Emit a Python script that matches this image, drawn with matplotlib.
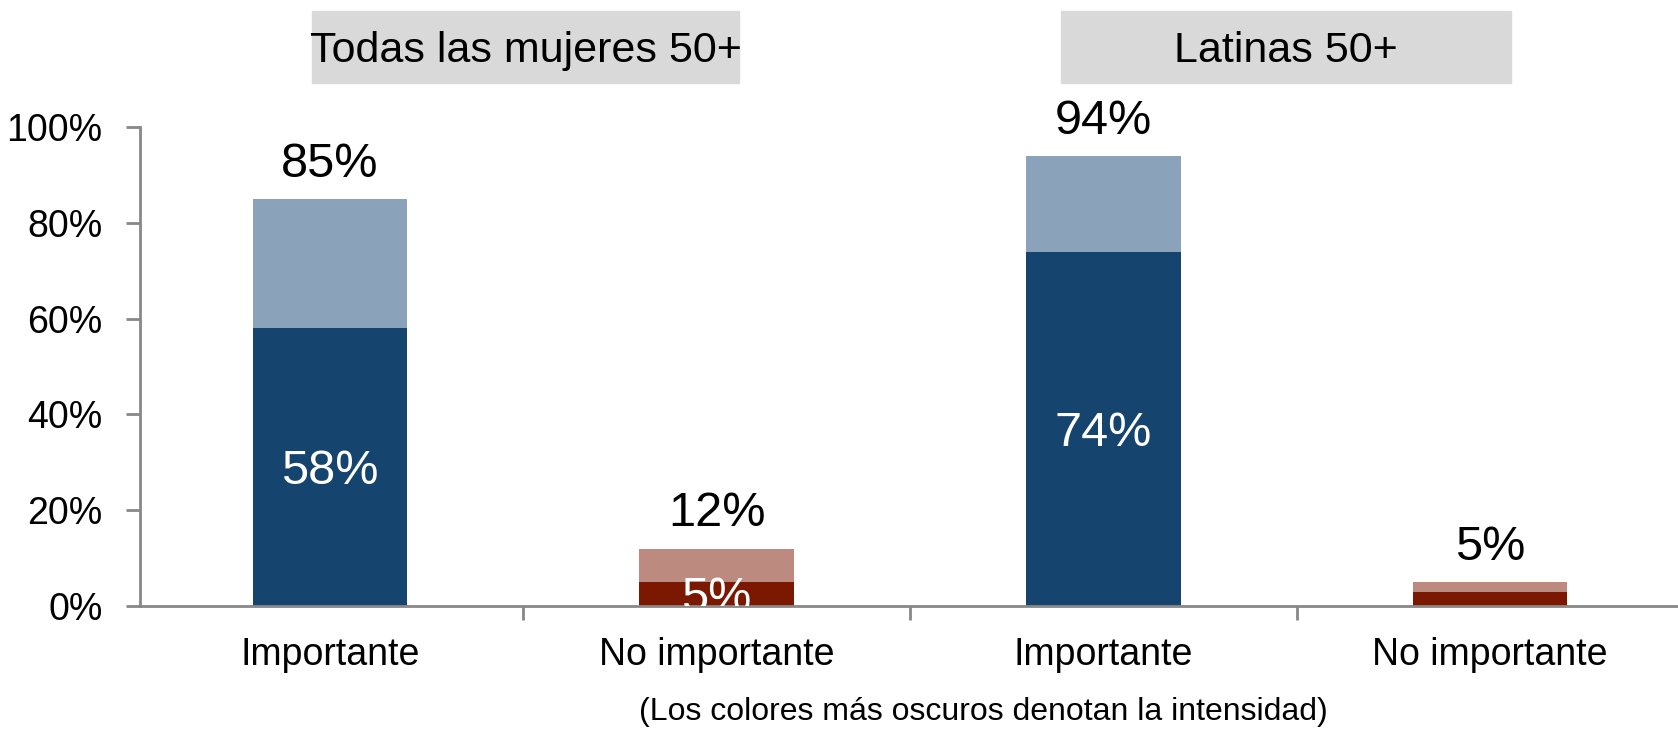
import matplotlib.pyplot as plt
import numpy as np

plt.rcParams['font.family'] = ['Liberation Sans', 'DejaVu Sans']

# 数据
categorias = ['Importante', 'No importante', 'Importante', 'No importante']
intenso = [58, 5, 74, 3]
total = [85, 12, 94, 5]
etiqueta_intenso = ['58%', '5%', '74%', '']
etiqueta_total = ['85%', '12%', '94%', '5%']
grupos = ['Todas las mujeres 50+', 'Latinas 50+']
nota = '(Los colores más oscuros denotan la intensidad)'

color_oscuro = ['#15446f', '#7b1800', '#15446f', '#7b1800']
color_claro = ['#8ba3ba', '#bd8a7f', '#8ba3ba', '#bd8a7f']

W, H = 1678, 729
fig = plt.figure(figsize=(W / 100, H / 100), dpi=100)
ax = fig.add_axes([140 / W, 123 / H, (1678 - 140) / W, (606 - 127) / H])

x = np.arange(len(categorias))
resto = [t - i for t, i in zip(total, intenso)]
ax.bar(x, intenso, width=0.4, color=color_oscuro, zorder=2)
ax.bar(x, resto, bottom=intenso, width=0.4, color=color_claro, zorder=2)

# 数值标签
for xi, v, t in zip(x, intenso, etiqueta_intenso):
    if t:
        ax.text(xi, v / 2 - 3.6, t, ha='center', va='baseline', color='white',
                fontsize=35, clip_on=True, zorder=3)
for xi, v, t in zip(x, total, etiqueta_total):
    ax.text(xi, v + 4.6, t, ha='center', va='baseline', color='black', fontsize=35)

ax.set_xlim(-0.491, 3.486)
ax.set_ylim(0, 100)
ax.set_yticks(range(0, 101, 20))
ax.set_yticklabels(['%d%%' % v for v in range(0, 101, 20)])
ax.set_xticks(x)
ax.set_xticklabels(categorias)
ax.tick_params(axis='x', length=0, labelsize=27, pad=22)
ax.set_xticks([0.5, 1.5, 2.5], minor=True)
ax.tick_params(axis='x', which='minor', length=10, width=2, color='#888888')
ax.tick_params(axis='y', length=10, width=2, color='#888888', labelsize=27, pad=17)

for s in ['top', 'right']:
    ax.spines[s].set_visible(False)
for s in ['left', 'bottom']:
    ax.spines[s].set_color('#888888')
    ax.spines[s].set_linewidth(2)

# 组标题
cajas = [(312, 739), (1061, 1511)]
for (x0, x1), g in zip(cajas, grupos):
    fig.patches.append(plt.Rectangle((x0 / W, 1 - 83 / H), (x1 - x0) / W, 72 / H,
                                     transform=fig.transFigure, color='#d9d9d9'))
    fig.text((x0 + x1) / 2 / W, 1 - 62 / H, g, ha='center', va='baseline', fontsize=31)

fig.text(983 / W, 1 - 712 / H, nota, ha='center', va='center', fontsize=23,
         family=['Liberation Sans Narrow', 'Liberation Sans', 'DejaVu Sans'])

plt.savefig('out.png', dpi=100)
